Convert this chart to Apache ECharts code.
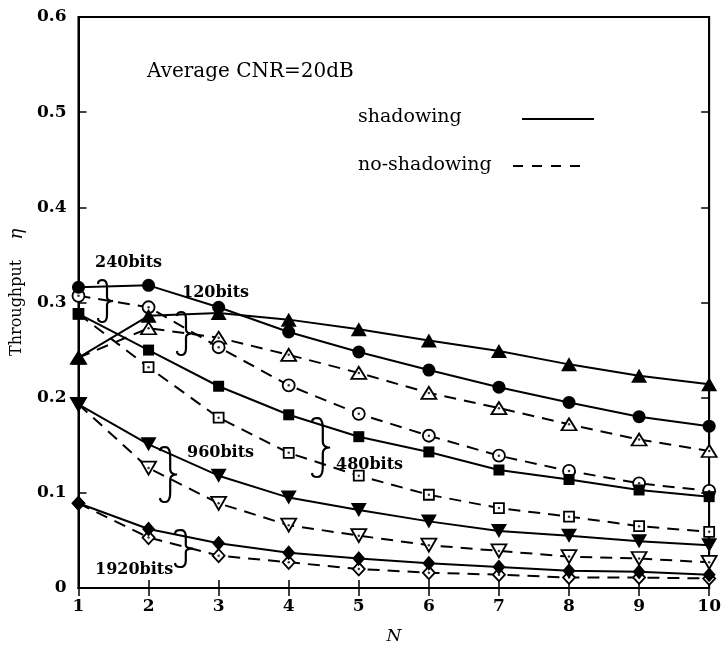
<!DOCTYPE html>
<html>
<head>
<meta charset="utf-8">
<script src="https://cdn.jsdelivr.net/npm/echarts@6/dist/echarts.min.js"></script>
<style>
html,body{margin:0;padding:0;background:#fff;}
#chart{width:724px;height:650px;}
</style>
</head>
<body>
<div id="chart"></div>
<script>
// ---- data ----
var N = [1, 2, 3, 4, 5, 6, 7, 8, 9, 10];
var yTicks = [0, 0.1, 0.2, 0.3, 0.4, 0.5, 0.6];
// shadowing (solid, filled markers)
var s120  = [0.242, 0.286, 0.289, 0.282, 0.272, 0.260, 0.249, 0.235, 0.223, 0.214];
var s240  = [0.316, 0.318, 0.295, 0.269, 0.248, 0.229, 0.211, 0.195, 0.180, 0.170];
var s480  = [0.288, 0.250, 0.212, 0.182, 0.159, 0.143, 0.124, 0.114, 0.103, 0.096];
var s960  = [0.193, 0.151, 0.118, 0.095, 0.082, 0.070, 0.060, 0.055, 0.049, 0.045];
var s1920 = [0.089, 0.062, 0.047, 0.037, 0.031, 0.026, 0.022, 0.018, 0.017, 0.014];
// no-shadowing (dashed, open markers)
var n120  = [0.242, 0.273, 0.263, 0.245, 0.226, 0.205, 0.189, 0.172, 0.156, 0.144];
var n240  = [0.307, 0.295, 0.253, 0.213, 0.183, 0.160, 0.139, 0.123, 0.110, 0.102];
var n480  = [0.288, 0.232, 0.179, 0.142, 0.118, 0.098, 0.084, 0.075, 0.065, 0.059];
var n960  = [0.193, 0.126, 0.089, 0.066, 0.055, 0.045, 0.039, 0.033, 0.031, 0.027];
var n1920 = [0.089, 0.053, 0.034, 0.027, 0.020, 0.016, 0.014, 0.011, 0.011, 0.010];

function pairs(arr){ return N.map(function(n,i){ return [n, arr[i]]; }); }

var SERIF = "'DejaVu Serif', 'Liberation Serif', serif";
var TRI_DOWN = 'path://M0,0 L10,0 L5,9 Z';

var defs = [
  {d: s120,  sym: 'triangle', size: [16,14], solid: true},
  {d: s240,  sym: 'circle',   size: 13, solid: true},
  {d: s480,  sym: 'rect',     size: 11, solid: true},
  {d: s960,  sym: TRI_DOWN,   size: [16,14], solid: true},
  {d: s1920, sym: 'diamond',  size: [13,15], solid: true},
  {d: n120,  sym: 'triangle', size: [15,12], solid: false},
  {d: n240,  sym: 'circle',   size: 12, solid: false},
  {d: n480,  sym: 'rect',     size: 10, solid: false},
  {d: n960,  sym: TRI_DOWN,   size: [15,13], solid: false},
  {d: n1920, sym: 'diamond',  size: [12,13], solid: false}
];

var series = [];
var order = [5,6,7,8,9,0,1,2,3,4];
order.forEach(function(k){
  var s = defs[k];
  series.push({
    type: 'line',
    data: pairs(s.d),
    symbol: s.sym,
    symbolSize: s.size,
    showAllSymbol: true,
    animation: false,
    z: s.solid ? 4 : 3,
    lineStyle: {color: '#000', width: 2, type: s.solid ? 'solid' : [12, 8]},
    itemStyle: s.solid ? {color: '#000', borderColor: '#000', borderWidth: 0}
                       : {color: '#fff', borderColor: '#000', borderWidth: 1.8}
  });
  if (!s.solid) {
    series.push({
      type: 'scatter',
      data: pairs(s.d),
      symbol: 'circle',
      symbolSize: 2.5,
      animation: false,
      z: 3,
      itemStyle: {color: '#000'}
    });
  }
});

var tickLabel = {color: '#000', fontFamily: SERIF, fontWeight: 'bold', fontSize: 17};

var option = {
  backgroundColor: '#fff',
  animation: false,
  grid: {left: 75, right: 13, top: 17, bottom: 57, show: true, borderColor: '#000', borderWidth: 2, backgroundColor: 'transparent'},
  xAxis: [{
    type: 'value', min: 1, max: 10, interval: 1, position: 'bottom',
    name: 'N', nameLocation: 'middle', nameGap: 40,
    nameTextStyle: {color: '#000', fontFamily: SERIF, fontStyle: 'italic', fontSize: 17},
    axisLine: {show: true, lineStyle: {color: '#000', width: 2}},
    axisTick: {show: true, inside: true, length: 8, lineStyle: {color: '#000', width: 1.5}},
    axisLabel: Object.assign({margin: 10}, tickLabel),
    splitLine: {show: false}
  }, {
    type: 'value', min: 1, max: 10, interval: 1, position: 'top',
    axisLine: {show: true, lineStyle: {color: '#000', width: 2}},
    axisTick: {show: true, inside: true, length: 8, lineStyle: {color: '#000', width: 1.5}},
    axisLabel: {show: false}, splitLine: {show: false}
  }],
  yAxis: [{
    type: 'value', min: 0, max: 0.6, interval: 0.1, position: 'left',
    name: '    Throughput    {i|η}', nameLocation: 'middle', nameGap: 52,
    nameTextStyle: {color: '#000', fontFamily: SERIF, fontSize: 16,
      rich: {i: {fontFamily: SERIF, fontStyle: 'italic', fontSize: 18, color: '#000'}}},
    axisLine: {show: true, lineStyle: {color: '#000', width: 2}},
    axisTick: {show: true, inside: true, length: 8, lineStyle: {color: '#000', width: 1.5}},
    axisLabel: Object.assign({margin: 12, formatter: function(v){ return v === 0 ? '0' : v.toFixed(1); }}, tickLabel),
    splitLine: {show: false}
  }, {
    type: 'value', min: 0, max: 0.6, interval: 0.1, position: 'right',
    axisLine: {show: true, lineStyle: {color: '#000', width: 2}},
    axisTick: {show: true, inside: true, length: 8, lineStyle: {color: '#000', width: 1.5}},
    axisLabel: {show: false}, splitLine: {show: false}
  }],
  series: series
};

// brace "}" as a sampled polyline
function qpts(p0, p1, p2, n) {
  var out = [];
  for (var i = 1; i <= n; i++) {
    var t = i / n, a = (1 - t) * (1 - t), b = 2 * (1 - t) * t, c = t * t;
    out.push([a * p0[0] + b * p1[0] + c * p2[0], a * p0[1] + b * p1[1] + c * p2[1]]);
  }
  return out;
}
function bracePoints(x, y0, y1, w) {
  var h = y1 - y0, ym = (y0 + y1) / 2, xv = x + w * 0.6;
  var pts = [[x, y0 + 4]];
  pts = pts.concat(qpts([x, y0 + 4], [x, y0], [x + w * 0.3, y0], 4));
  pts = pts.concat(qpts([x + w * 0.3, y0], [xv, y0], [xv, y0 + h * 0.18], 6));
  pts.push([xv, ym - h * 0.1]);
  pts = pts.concat(qpts([xv, ym - h * 0.1], [xv, ym], [x + w, ym], 5));
  pts = pts.concat(qpts([x + w, ym], [xv, ym], [xv, ym + h * 0.1], 5));
  pts.push([xv, y1 - h * 0.18]);
  pts = pts.concat(qpts([xv, y1 - h * 0.18], [xv, y1], [x + w * 0.3, y1], 6));
  pts = pts.concat(qpts([x + w * 0.3, y1], [x, y1], [x, y1 - 4], 4));
  return pts;
}
function braceEl(x, y0, y1, w) {
  return {type: 'polyline', z: 10, shape: {points: bracePoints(x, y0, y1, w)},
          style: {fill: null, stroke: '#000', lineWidth: 2.2}};
}
function textEl(txt, x, y, font) {
  return {type: 'text', x: x, y: y, z: 10,
          style: {text: txt, fill: '#000', font: font, textVerticalAlign: 'middle', verticalAlign: 'middle'}};
}
var LBL = 'bold 16px ' + SERIF;
var LEG = '19px ' + SERIF;

option.graphic = [
  textEl('Average CNR=20dB', 147, 72, '20px ' + SERIF),
  textEl('shadowing', 358, 117, LEG),
  textEl('no-shadowing', 358, 165, LEG),
  {type: 'line', shape: {x1: 522, y1: 119, x2: 594, y2: 119}, style: {stroke: '#000', lineWidth: 2}},
  {type: 'line', shape: {x1: 513, y1: 166, x2: 585, y2: 166}, style: {stroke: '#000', lineWidth: 2, lineDash: [10, 9]}},
  textEl('240bits', 95, 263, LBL),
  textEl('120bits', 182, 293, LBL),
  textEl('960bits', 187, 453, LBL),
  textEl('480bits', 336, 465, LBL),
  textEl('1920bits', 95, 570, LBL),
  braceEl(98, 280, 322, 15),
  braceEl(177, 312, 355, 15),
  braceEl(160, 447, 502, 17),
  braceEl(312, 418, 477, 18),
  braceEl(175, 530, 567, 18)
];

var chart = echarts.init(document.getElementById('chart'), null, {renderer: 'canvas'});
chart.setOption(option);
</script>
</body>
</html>
